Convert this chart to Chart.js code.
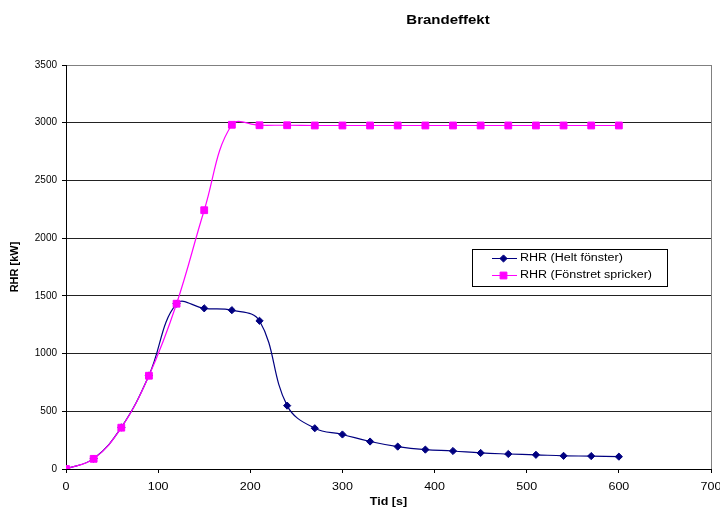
<!DOCTYPE html>
<html>
<head>
<meta charset="utf-8">
<title>Brandeffekt</title>
<script src="https://cdn.jsdelivr.net/npm/chart.js@4/dist/chart.umd.min.js"></script>
<style>
  html, body { margin: 0; padding: 0; background: #fff; }
  #wrap { width: 720px; height: 511px; }
</style>
</head>
<body>
<div id="wrap"><canvas id="c" width="720" height="511"></canvas></div>
<script>
// Time in seconds
const tid = [0, 30, 60, 90, 120, 150, 180, 210, 240, 270, 300, 330, 360, 390, 420, 450, 480, 510, 540, 570, 600];
// Heat release rate, kW
const rhrHeltFonster = [0, 90, 360, 810, 1432, 1392, 1376, 1284, 549, 353, 299, 238, 194, 168, 156, 139, 130, 123, 114, 112, 107];
const rhrFonstretSpricker = [0, 88, 358, 808, 1432, 2242, 2982, 2978, 2978, 2976, 2976, 2976, 2976, 2976, 2976, 2976, 2976, 2976, 2976, 2976, 2976];
const xTicks = [0, 100, 200, 300, 400, 500, 600, 700];
const yTicks = [0, 500, 1000, 1500, 2000, 2500, 3000, 3500];
const seriesNames = ['RHR (Helt fönster)', 'RHR (Fönstret spricker)'];
const chartTitle = 'Brandeffekt';
const xTitle = 'Tid [s]';
const yTitle = 'RHR [kW]';

const FONT = 'Liberation Sans, Arial, sans-serif';
// horizontal widening applied to upright, non right-aligned text
const TEXT_SX = 1.25;

const toPoints = ys => tid.map((t, i) => ({ x: t, y: ys[i] }));

function widenText(ctx) {
  if (ctx.__widened) return;
  const orig = ctx.fillText.bind(ctx);
  ctx.fillText = function (text, x, y, maxWidth) {
    const m = this.getTransform();
    if (m.b !== 0 || m.c !== 0 || this.textAlign === 'right') {
      return orig(text, x, y);
    }
    this.save();
    this.translate(x, y);
    this.scale(TEXT_SX, 1);
    orig(text, 0, 0);
    this.restore();
  };
  ctx.__widened = true;
}

// Title and boxed legend drawn on the canvas
const extras = {
  id: 'extras',
  beforeDraw(chart) {
    widenText(chart.ctx);
  },
  afterDraw(chart) {
    const ctx = chart.ctx;
    ctx.save();
    ctx.fillStyle = '#000';
    ctx.font = 'bold 12px ' + FONT;
    ctx.textAlign = 'center';
    ctx.textBaseline = 'middle';
    ctx.fillText(chartTitle, 448, 21);

    // legend box
    const bx = 472.5, by = 249.5, bw = 195, bh = 37;
    ctx.fillStyle = '#fff';
    ctx.fillRect(bx, by, bw, bh);
    ctx.strokeStyle = '#000';
    ctx.lineWidth = 1;
    ctx.strokeRect(bx, by, bw, bh);
    chart.data.datasets.forEach((ds, i) => {
      const y = Math.round(by + 8 + i * 17.5) + 0.5;
      ctx.strokeStyle = ds.borderColor;
      ctx.fillStyle = ds.backgroundColor;
      ctx.lineWidth = 1;
      ctx.beginPath();
      ctx.moveTo(492, y);
      ctx.lineTo(517, y);
      ctx.stroke();
      Chart.helpers.drawPoint(ctx, {
        pointStyle: ds.pointStyle,
        radius: ds.pointRadius,
        borderWidth: 1
      }, 503.5, y);
      ctx.fillStyle = '#000';
      ctx.font = '10px ' + FONT;
      ctx.textAlign = 'left';
      ctx.textBaseline = 'middle';
      ctx.fillText(ds.label, 520, y);
    });
    ctx.restore();
  }
};

new Chart(document.getElementById('c'), {
  type: 'line',
  data: {
    datasets: [
      {
        label: seriesNames[0],
        data: toPoints(rhrHeltFonster),
        borderColor: '#000080',
        backgroundColor: '#000080',
        borderWidth: 1.2,
        pointStyle: 'rectRot',
        pointRadius: 3.6,
        pointBorderWidth: 1,
        tension: 0.4,
        fill: false,
        order: 1
      },
      {
        label: seriesNames[1],
        data: toPoints(rhrFonstretSpricker),
        borderColor: '#FF00FF',
        backgroundColor: '#FF00FF',
        borderWidth: 1.2,
        pointStyle: 'rect',
        pointRadius: 4.8,
        pointBorderWidth: 1,
        tension: 0.4,
        fill: false,
        order: 0
      }
    ]
  },
  options: {
    responsive: false,
    animation: false,
    devicePixelRatio: 1,
    layout: { padding: { top: 65, right: 0, left: 0, bottom: 0 } },
    plugins: {
      legend: { display: false },
      title: { display: false },
      tooltip: { enabled: false }
    },
    scales: {
      x: {
        type: 'linear',
        min: 0,
        max: 700,
        afterFit(scale) {
          scale.height = 42;
          scale.paddingLeft = 0;
          scale.paddingRight = 9;
        },
        afterBuildTicks(scale) { scale.ticks = xTicks.map(v => ({ value: v })); },
        ticks: {
          color: '#000',
          font: { family: FONT, size: 10 },
          padding: 8,
          maxRotation: 0,
          callback: v => String(v)
        },
        grid: {
          drawOnChartArea: true,
          color: c => (c.tick && c.tick.value === 700 ? '#808080' : 'rgba(0,0,0,0)'),
          tickColor: '#000',
          tickLength: 4,
          lineWidth: 1
        },
        border: { display: true, color: '#000', width: 1 },
        title: {
          display: true,
          text: xTitle,
          color: '#000',
          font: { family: FONT, size: 10, weight: 'bold' },
          padding: { top: 0, bottom: 3 }
        }
      },
      y: {
        type: 'linear',
        min: 0,
        max: 3500,
        afterFit(scale) { scale.width = 66; },
        afterBuildTicks(scale) { scale.ticks = yTicks.map(v => ({ value: v })); },
        ticks: {
          color: '#000',
          font: { family: FONT, size: 10 },
          padding: 5,
          callback: v => String(v)
        },
        grid: {
          color: c => (c.tick && c.tick.value === 3500 ? '#808080' : '#222'),
          tickColor: '#000',
          tickLength: 4,
          lineWidth: 1
        },
        border: { display: true, color: '#000', width: 1 },
        title: {
          display: true,
          text: yTitle,
          color: '#000',
          font: { family: FONT, size: 11, weight: 'bold' },
          padding: { top: 8, bottom: 0 }
        }
      }
    }
  },
  plugins: [extras]
});
</script>
</body>
</html>
